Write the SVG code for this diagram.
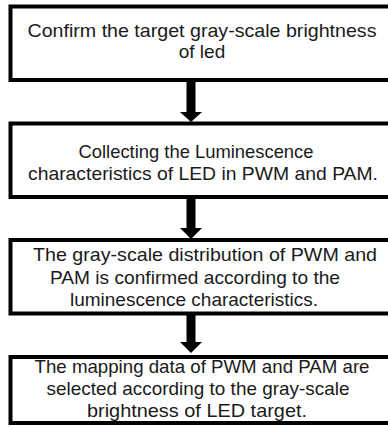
<svg xmlns="http://www.w3.org/2000/svg" width="388" height="429" viewBox="0 0 388 429">
<style>
.box{fill:#fff;stroke:#000;stroke-width:4}
.t{font-family:"Liberation Sans",Arial,sans-serif;font-size:19px;fill:#1a1a1a;text-anchor:middle}
.arrow{fill:#000}
</style>
<rect width="388" height="429" fill="#fff"/>
<g id="node1">
<rect class="box" x="10.5" y="6.5" width="382" height="73.5"/>
<text class="t" x="202" y="37" textLength="349" lengthAdjust="spacingAndGlyphs">Confirm the target gray-scale brightness</text>
<text class="t" x="202" y="58">of led</text>
</g>
<g id="node2">
<rect class="box" x="10.5" y="123.5" width="382" height="73.5"/>
<text class="t" x="196" y="158" textLength="235" lengthAdjust="spacingAndGlyphs">Collecting the Luminescence</text>
<text class="t" x="203" y="180" textLength="350" lengthAdjust="spacingAndGlyphs">characteristics of LED in PWM and PAM.</text>
</g>
<g id="node3">
<rect class="box" x="10.5" y="240" width="382" height="73.5"/>
<text class="t" x="205" y="261" textLength="344" lengthAdjust="spacingAndGlyphs">The gray-scale distribution of PWM and</text>
<text class="t" x="195" y="284" textLength="290" lengthAdjust="spacingAndGlyphs">PAM is confirmed according to the</text>
<text class="t" x="194" y="306" textLength="248" lengthAdjust="spacingAndGlyphs">luminescence characteristics.</text>
</g>
<g id="node4">
<rect class="box" x="10.5" y="357" width="382" height="66"/>
<text class="t" x="202" y="373" textLength="335" lengthAdjust="spacingAndGlyphs">The mapping data of PWM and PAM are</text>
<text class="t" x="198" y="395" textLength="303" lengthAdjust="spacingAndGlyphs">selected according to the gray-scale</text>
<text class="t" x="197" y="417" textLength="220" lengthAdjust="spacingAndGlyphs">brightness of LED target.</text>
</g>
<g id="connectors">
<rect class="arrow" x="186.5" y="82" width="9" height="31"/>
<polygon class="arrow" points="180,112 202,112 191,122"/>
<rect class="arrow" x="186.5" y="199" width="9" height="30"/>
<polygon class="arrow" points="180,228 202,228 191,239"/>
<rect class="arrow" x="186.5" y="315" width="9" height="28"/>
<polygon class="arrow" points="180,342 202,342 191,353"/>
</g>
</svg>
